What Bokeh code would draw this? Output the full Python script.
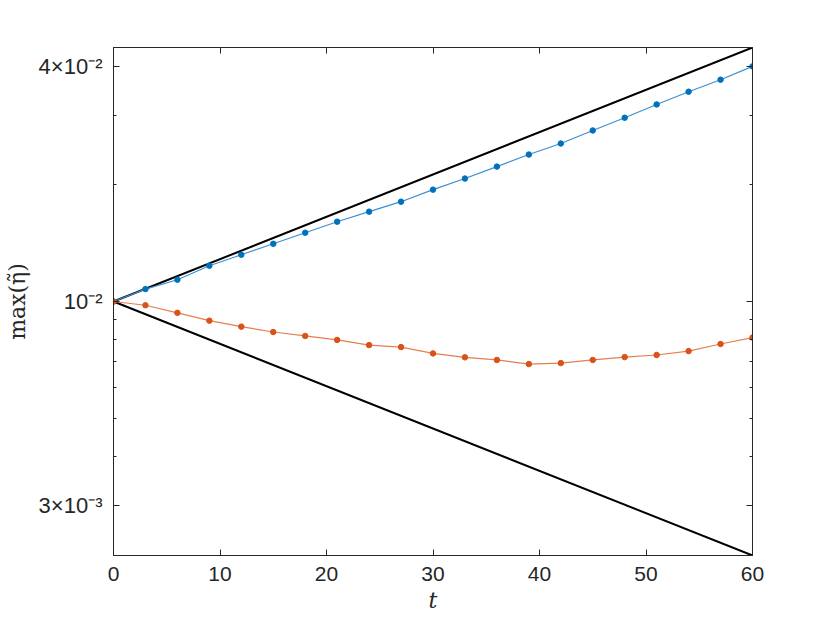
import numpy as np
from bokeh.plotting import figure
from bokeh.models import FixedTicker, LogAxis, LinearAxis, Range1d
from bokeh.embed import file_html
from bokeh.resources import INLINE

# ---- data ----
t = [0, 3, 6, 9, 12, 15, 18, 21, 24, 27, 30, 33, 36, 39, 42, 45, 48, 51, 54, 57, 60]
eta_blue = [0.0100, 0.01076, 0.01137, 0.01235, 0.01318, 0.01406, 0.01501, 0.01602,
            0.01700, 0.01803, 0.01936, 0.02067, 0.02218, 0.02382, 0.02542, 0.02746,
            0.02960, 0.03202, 0.03452, 0.03706, 0.04009]
eta_orange = [0.0100, 0.00978, 0.00935, 0.00893, 0.00862, 0.00835, 0.00816, 0.00797,
              0.00773, 0.00764, 0.00736, 0.00719, 0.00708, 0.00691, 0.00695, 0.00708,
              0.00720, 0.00729, 0.00746, 0.00778, 0.00808]
t_bound = [0, 60]
eta_upper = [0.0100, 0.04482]
eta_lower = [0.0100, 0.002231]

x_ticks = [0, 10, 20, 30, 40, 50, 60]
y_major = [0.003, 0.01, 0.04]
y_labels = ["3\u00d710\u207b\u00b3", "10\u207b\u00b2", "4\u00d710\u207b\u00b2"]
y_minor = [0.004, 0.005, 0.006, 0.007, 0.008, 0.009, 0.02, 0.03]

AX = "#262626"
BLUE = "#0072BD"
BLUE_LINE = "#3d8fd1"
ORANGE = "#D95319"
ORANGE_LINE = "#e57f52"

p = figure(width=829, height=622, y_axis_type="log",
           x_range=Range1d(t_bound[0], t_bound[-1]),
           y_range=Range1d(eta_lower[-1], eta_upper[-1]),
           output_backend="svg", toolbar_location=None,
           min_border_left=113, min_border_right=77,
           min_border_top=47, min_border_bottom=67)

p.grid.visible = False
p.background_fill_color = "white"
p.border_fill_color = "white"
p.outline_line_color = AX
p.outline_line_width = 1

yt = FixedTicker(ticks=y_major, minor_ticks=y_minor)
xt = FixedTicker(ticks=x_ticks, minor_ticks=[])

p.yaxis.ticker = yt
p.yaxis.major_label_overrides = {v: s for v, s in zip(y_major, y_labels)}
p.xaxis.ticker = xt

for ax in [p.xaxis[0], p.yaxis[0]]:
    ax.axis_line_color = AX
    ax.major_tick_line_color = AX
    ax.minor_tick_line_color = AX
    ax.major_tick_in = 6
    ax.major_tick_out = 0
    ax.minor_tick_in = 3
    ax.minor_tick_out = 0
    ax.major_label_text_font = "Liberation Sans"
    ax.major_label_text_font_size = "21px"
    ax.major_label_text_color = AX
    ax.axis_label_text_font = "DejaVu Serif"
    ax.axis_label_text_font_style = "normal"
    ax.axis_label_text_color = AX

p.yaxis.major_label_text_font_size = "22px"
p.xaxis.major_label_standoff = 11
p.yaxis.major_label_standoff = 11
p.xaxis.axis_label = "t"
p.xaxis.axis_label_text_font_style = "italic"
p.xaxis.axis_label_text_font_size = "22px"
p.xaxis.axis_label_standoff = 4
p.yaxis.axis_label = "max(\u03b7\u0303)"
p.yaxis.axis_label_text_font_size = "22px"
p.yaxis.axis_label_standoff = 6

# mirrored axes (box), labels not drawn
top = LinearAxis(ticker=xt, major_label_text_color=None, major_tick_in=6, major_tick_out=0,
                 minor_tick_in=0, minor_tick_out=0, axis_line_color=AX, major_tick_line_color=AX)
right = LogAxis(ticker=yt, major_label_text_color=None, major_tick_in=6, major_tick_out=0,
                minor_tick_in=3, minor_tick_out=0, axis_line_color=AX, major_tick_line_color=AX,
                minor_tick_line_color=AX)
p.add_layout(top, "above")
p.add_layout(right, "right")

# lines
p.line(t_bound, eta_upper, line_color="black", line_width=2)
p.line(t_bound, eta_lower, line_color="black", line_width=2)
p.line(t, eta_blue, line_color=BLUE_LINE, line_width=1.2)
p.scatter(t, eta_blue, size=5.5, fill_color=BLUE, line_color=BLUE)
p.line(t, eta_orange, line_color=ORANGE_LINE, line_width=1.2)
p.scatter(t, eta_orange, size=5.5, fill_color=ORANGE, line_color=ORANGE)

open("out.html", "w").write(file_html(p, INLINE))
